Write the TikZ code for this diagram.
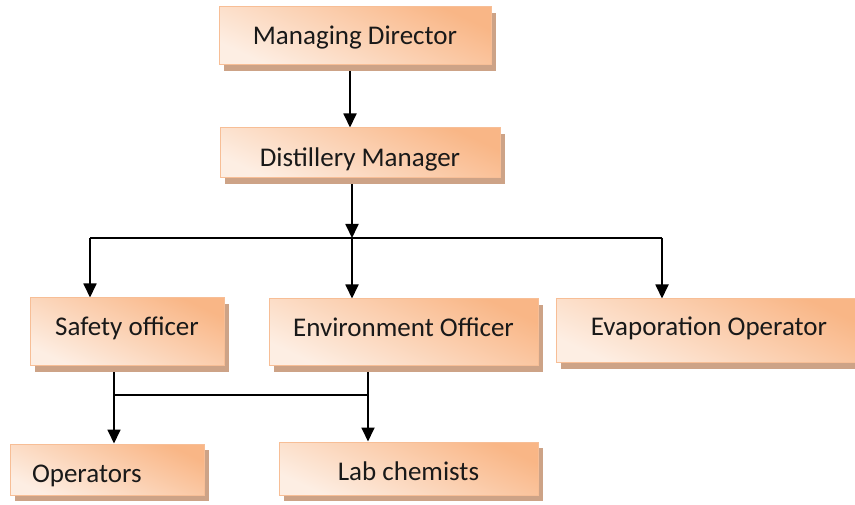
\documentclass[tikz,border=0pt]{standalone}
\usepackage{fontspec}
\setmainfont{Carlito}
\usetikzlibrary{arrows.meta,shadows}
\pgfdeclarelayer{bg}
\pgfsetlayers{bg,main}
\definecolor{boxdark}{RGB}{249,182,134}
\definecolor{boxlight}{RGB}{253,238,227}
\definecolor{boxedge}{RGB}{247,190,150}
\definecolor{shadowc}{RGB}{205,163,135}
\newcommand{\shiftdown}[2]{\raisebox{-#1pt}{#2}}
\begin{document}
\begin{tikzpicture}[x=1pt,y=-1pt,
  orgbox/.style={draw=boxedge, line width=1pt, top color=boxdark, bottom color=boxlight,
    shading angle=-25, inner sep=0pt, text height=23pt, text depth=6pt,
    font=\fontsize{27}{31}\selectfont, text=black!90,
    drop shadow={shadow xshift=5pt, shadow yshift=-6pt, fill=shadowc, opacity=1}},
  conn/.style={line width=1.8pt, black},
  arr/.style={conn, -{Triangle[width=13pt,length=14pt]}}]
\useasboundingbox (0,0) rectangle (855,505);
\clip (0,0) rectangle (855,505);
\node[orgbox, minimum width=272pt, minimum height=58pt] (md) at (355,36) {\shiftdown{0.5}{Managing Director}};
\node[orgbox, minimum width=280pt, minimum height=50pt] (dm) at (360,153) {\shiftdown{5}{Distillery Manager}};
\node[orgbox, minimum width=194pt, minimum height=68pt] (so) at (127,332) {\shiftdown{-4.5}{Safety officer}};
\node[orgbox, minimum width=269pt, minimum height=67pt] (eo) at (403.5,332.5) {\shiftdown{-4}{Environment Officer}};
\node[orgbox, minimum width=306pt, minimum height=64pt] (ev) at (709,331) {\shiftdown{-4}{Evaporation Operator}};
\node[orgbox, minimum width=194pt, minimum height=51pt, inner xsep=22pt, text width=150pt, align=left] (op) at (107,469.5) {\shiftdown{4.5}{Operators}};
\node[orgbox, minimum width=259pt, minimum height=53pt] (lc) at (408.5,468.5) {\shiftdown{3}{Lab chemists}};
\coordinate (a1) at (350,100);
\coordinate (bar) at (352,238);
\coordinate (barL) at (90,238);
\coordinate (barR) at (662,238);
\coordinate (s1) at (114,395);
\coordinate (s2) at (368,395);
\begin{pgfonlayer}{bg}
\fill[white] (0,0) rectangle (855,505);
\draw[arr] (a1 |- md.south) -- (a1 |- dm.north);
\draw[arr] (bar |- dm.south) -- (bar);
\draw[conn] (barL) -- (barR);
\draw[arr] (barL) -- (barL |- so.north);
\draw[arr] (bar) -- (bar |- eo.north);
\draw[arr] (barR) -- (barR |- ev.north);
\draw[arr] (s1 |- so.south) -- (s1 |- op.north);
\draw[arr] (s2 |- eo.south) -- (s2 |- lc.north);
\draw[conn, line width=1.5pt] (s1) -- (s2);
\end{pgfonlayer}
\end{tikzpicture}
\end{document}
